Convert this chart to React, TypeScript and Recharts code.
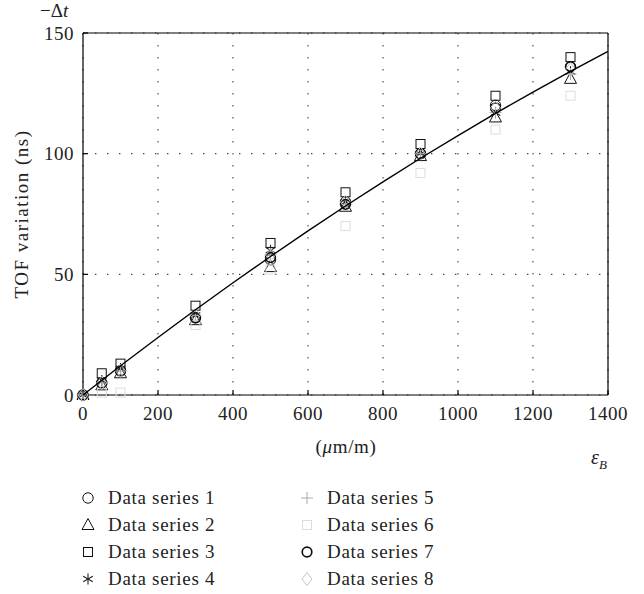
import React from "react"
import { ComposedChart, Scatter, XAxis, YAxis, CartesianGrid, ReferenceLine } from "recharts"

// strain steps (µm/m) at which the TOF change was measured
const strainSteps = [0, 50, 100, 300, 500, 700, 900, 1100, 1300]

// TOF variation (ns) for each data series
const series1 = [0, 5, 10, 32, 56, 80, 100, 120, 136]
const series2 = [0, 4, 9, 31, 53, 78, 99, 115, 131]
const series3 = [0, 9, 13, 37, 63, 84, 104, 124, 140]
const series4 = [0, 6, 11, 33, 60, 80, 100, 117, 134]
const series5 = [0, 5, 10, 33, 58, 79, 100, 117, 133]
const series6 = [0, 1, 1, 29, 52, 70, 92, 110, 124]
const series7 = [0, 5, 10, 32, 57, 79, 100, 119, 136]
const series8 = [0, 5, 10, 33, 58, 80, 100, 119, 135]

// fitted curve
const fitStrain = [0, 100, 200, 300, 400, 500, 600, 700, 800, 900, 1000, 1100, 1200, 1300, 1400]
const fitTof = [0, 12.1, 23.8, 35.3, 46.5, 57.4, 68, 78.3, 88.3, 98.1, 107.5, 116.7, 125.5, 134.1, 142.4]

const xTicks = [0, 200, 400, 600, 800, 1000, 1200, 1400]
const yTicks = [0, 50, 100, 150]

const FONT = "'Liberation Serif', 'Times New Roman', serif"

type MarkerKind = "circle" | "triangle" | "square" | "asterisk" | "plus" | "boldCircle" | "diamond"

function Marker({ kind, cx, cy, color }: { kind: MarkerKind; cx: number; cy: number; color: string }) {
  switch (kind) {
    case "circle":
      return <circle cx={cx} cy={cy} r={5.2} fill="none" stroke={color} strokeWidth={1} />
    case "boldCircle":
      return <circle cx={cx} cy={cy} r={4.8} fill="none" stroke={color} strokeWidth={1.7} />
    case "triangle":
      return (
        <polygon
          points={`${cx},${cy - 6.5} ${cx - 6},${cy + 4.5} ${cx + 6},${cy + 4.5}`}
          fill="none"
          stroke={color}
          strokeWidth={1}
        />
      )
    case "square":
      return <rect x={cx - 4.5} y={cy - 4.5} width={9} height={9} fill="none" stroke={color} strokeWidth={1} />
    case "asterisk":
      return (
        <g stroke={color} strokeWidth={1.1}>
          <line x1={cx} y1={cy - 5.5} x2={cx} y2={cy + 5.5} />
          <line x1={cx - 4.8} y1={cy - 2.8} x2={cx + 4.8} y2={cy + 2.8} />
          <line x1={cx - 4.8} y1={cy + 2.8} x2={cx + 4.8} y2={cy - 2.8} />
        </g>
      )
    case "plus":
      return (
        <g stroke={color} strokeWidth={1}>
          <line x1={cx} y1={cy - 6} x2={cx} y2={cy + 6} />
          <line x1={cx - 6} y1={cy} x2={cx + 6} y2={cy} />
        </g>
      )
    case "diamond":
      return (
        <polygon
          points={`${cx},${cy - 6.5} ${cx + 5},${cy} ${cx},${cy + 6.5} ${cx - 5},${cy}`}
          fill="none"
          stroke={color}
          strokeWidth={1}
        />
      )
  }
}

const seriesList: { name: string; values: number[]; kind: MarkerKind; color: string }[] = [
  { name: "Data series 1", values: series1, kind: "circle", color: "#111" },
  { name: "Data series 2", values: series2, kind: "triangle", color: "#111" },
  { name: "Data series 3", values: series3, kind: "square", color: "#111" },
  { name: "Data series 4", values: series4, kind: "asterisk", color: "#222" },
  { name: "Data series 5", values: series5, kind: "plus", color: "#aaa" },
  { name: "Data series 6", values: series6, kind: "square", color: "#ddd" },
  { name: "Data series 7", values: series7, kind: "boldCircle", color: "#111" },
  { name: "Data series 8", values: series8, kind: "diamond", color: "#c4c4c4" },
]

const fitData = fitStrain.map((x, i) => ({ x, y: fitTof[i] }))

const tickStyle = { fontFamily: FONT, fontSize: 19, fill: "#222", letterSpacing: 0.5 }
const textStyle: React.CSSProperties = { position: "absolute", fontSize: 19, letterSpacing: 0.7, whiteSpace: "nowrap", color: "#222" }

export default function App() {
  return (
    <div style={{ position: "absolute", left: 0, top: 0, width: 644, height: 594, background: "#fff", fontFamily: FONT }}>
      <ComposedChart width={644} height={480} margin={{ top: 33, right: 36, bottom: 55, left: 33 }}>
        <CartesianGrid stroke="#444" strokeDasharray="1.4 10.6" strokeWidth={1.1} />
        <XAxis
          type="number"
          dataKey="x"
          domain={[0, 1400]}
          ticks={xTicks}
          height={30}
          tickSize={-5}
          tickMargin={17}
          tick={tickStyle}
          stroke="#000"
          strokeWidth={1.2}
        />
        <YAxis
          type="number"
          dataKey="y"
          domain={[0, 150]}
          ticks={yTicks}
          width={50}
          tickSize={-5}
          tickMargin={14}
          tick={tickStyle}
          stroke="#000"
          strokeWidth={1.2}
        />
        {/* closing frame on the top and right */}
        <ReferenceLine y={150} stroke="#000" strokeWidth={1.2} />
        <ReferenceLine x={1400} stroke="#000" strokeWidth={1.2} />
        {seriesList.map((s) => (
          <Scatter
            key={s.name}
            name={s.name}
            data={strainSteps.map((x, i) => ({ x, y: s.values[i] }))}
            isAnimationActive={false}
            shape={(p: any) => <Marker kind={s.kind} cx={p.cx} cy={p.cy} color={s.color} />}
          />
        ))}
        <Scatter
          name="fit"
          data={fitData}
          line={{ stroke: "#000", strokeWidth: 1.4 }}
          lineType="joint"
          shape={() => <g />}
          isAnimationActive={false}
        />
      </ComposedChart>

      <div style={{ ...textStyle, left: 40, top: 1, lineHeight: "20px", letterSpacing: 0 }}>
        −Δ<i>t</i>
      </div>
      <div style={{ ...textStyle, left: 22, top: 214, letterSpacing: 1.5, transform: "translate(-50%, -50%) rotate(-90deg)" }}>
        TOF variation (ns)
      </div>
      <div style={{ ...textStyle, left: 346, top: 447, transform: "translate(-50%, -50%)" }}>
        (<i>μ</i>m/m)
      </div>
      <div style={{ ...textStyle, left: 591, top: 446, fontSize: 20, letterSpacing: 0 }}>
        <i>ε</i>
        <sub style={{ fontSize: 13, fontStyle: "italic" }}>B</sub>
      </div>

      {seriesList.map((s, i) => {
        const col = Math.floor(i / 4)
        const row = i % 4
        const cx = col === 0 ? 88 : 307
        const cy = 498 + row * 27
        return (
          <React.Fragment key={s.name}>
            <svg style={{ position: "absolute", left: cx - 8, top: cy - 8 }} width={16} height={16}>
              <Marker kind={s.kind} cx={8} cy={8} color={s.color} />
            </svg>
            <div style={{ ...textStyle, left: col === 0 ? 108 : 327, top: cy - 12, lineHeight: "24px" }}>{s.name}</div>
          </React.Fragment>
        )
      })}
    </div>
  )
}
